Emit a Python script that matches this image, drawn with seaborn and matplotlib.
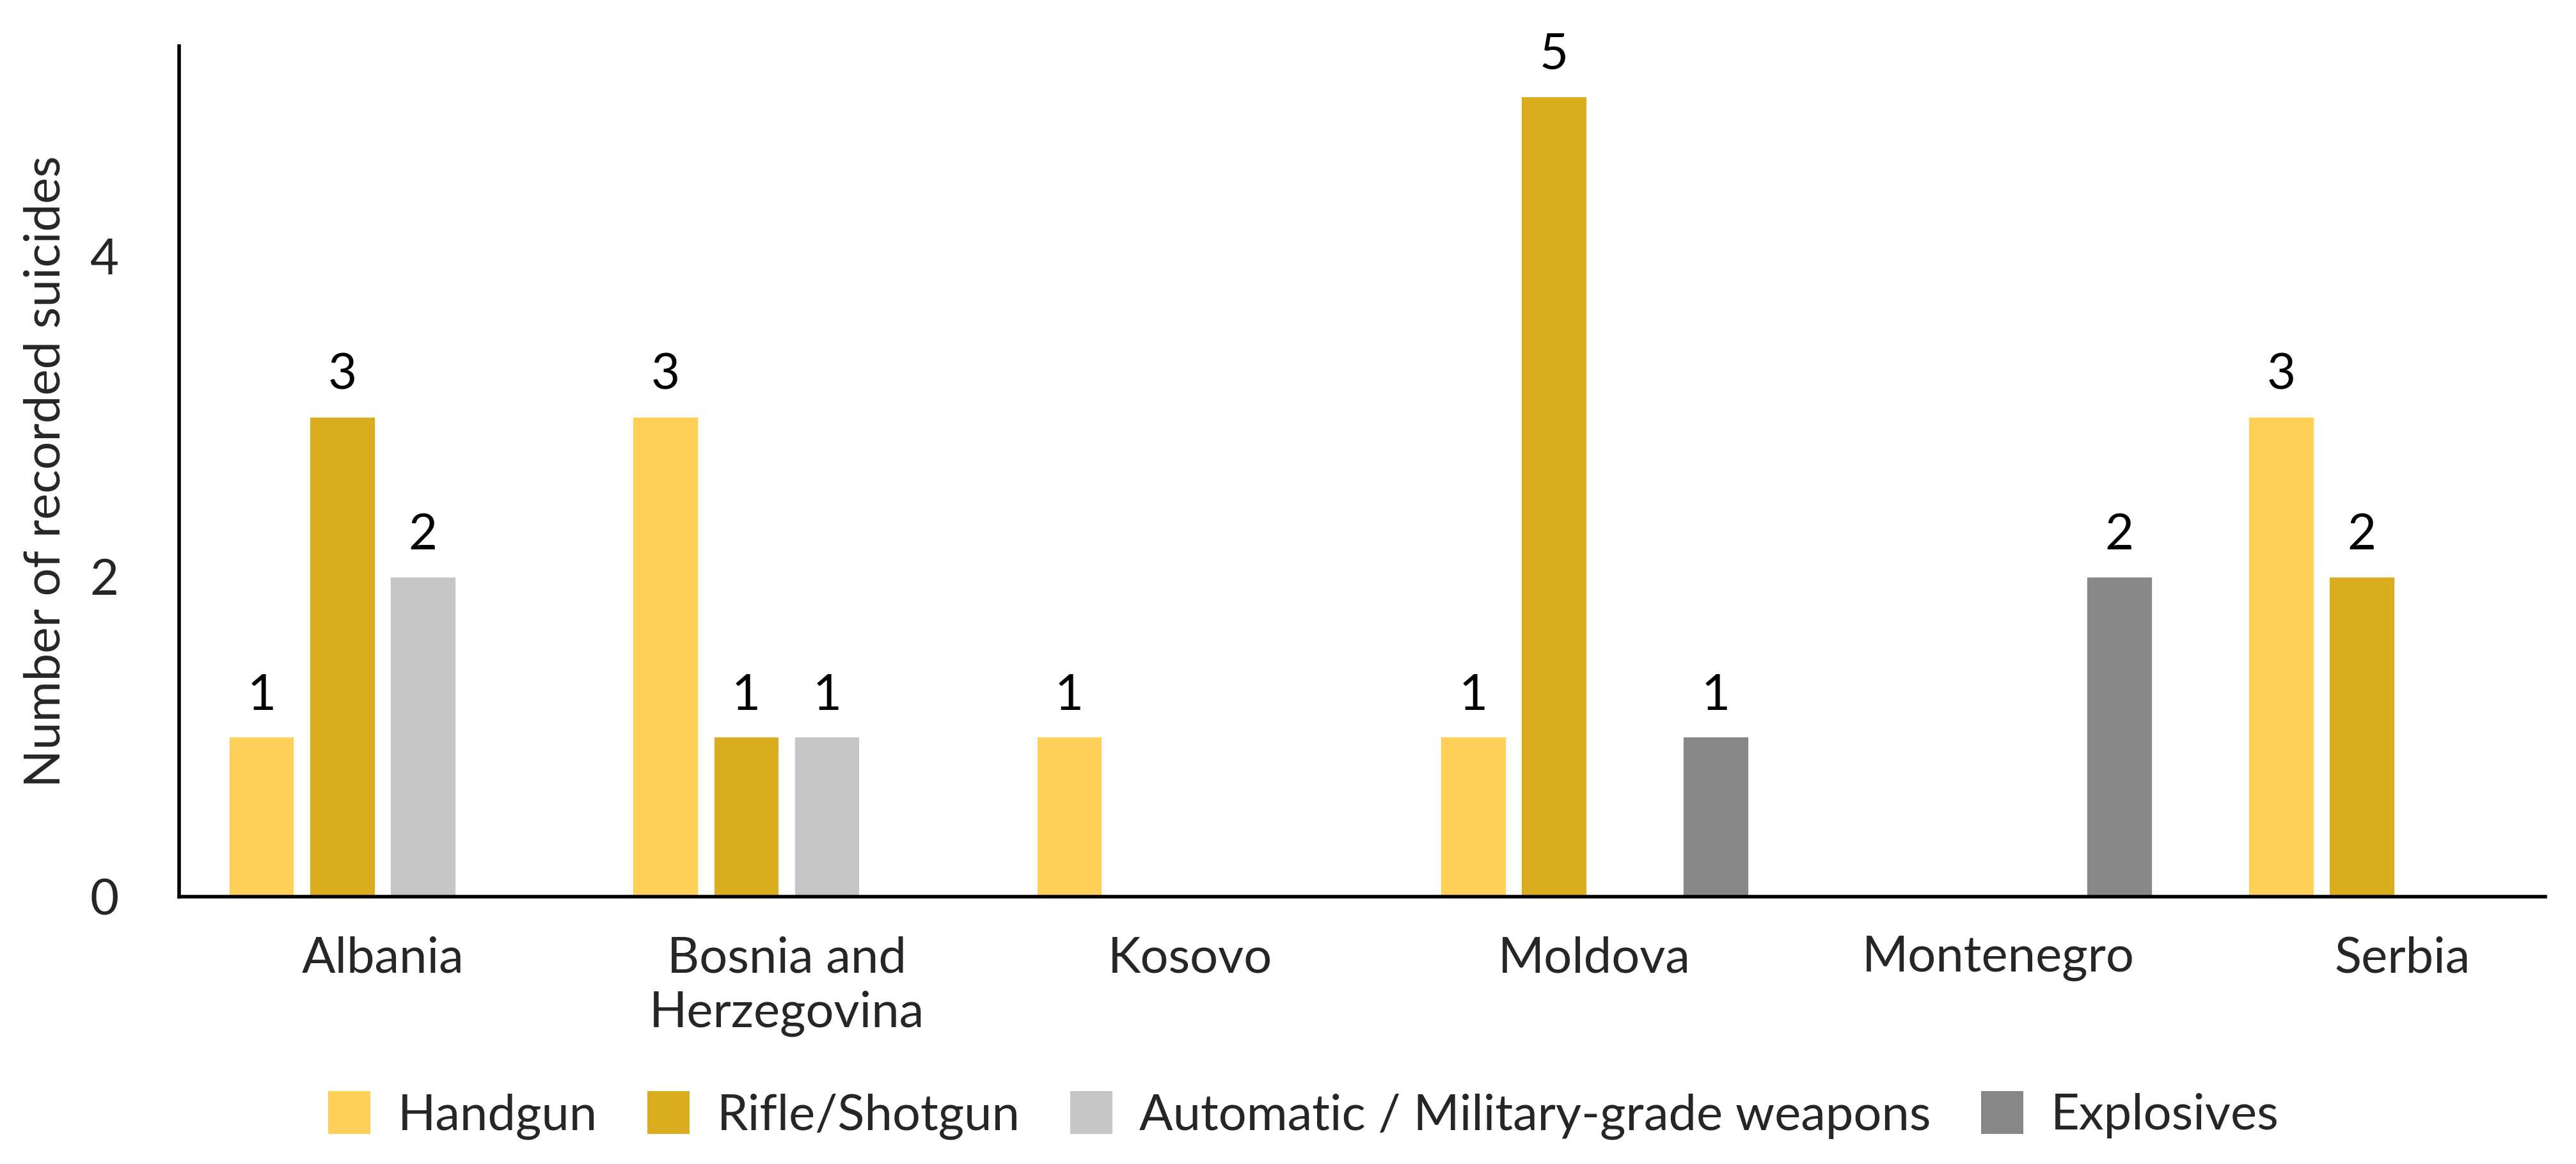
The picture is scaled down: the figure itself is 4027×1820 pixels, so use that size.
import matplotlib
matplotlib.use("Agg")
import matplotlib.pyplot as plt
import seaborn as sns
import pandas as pd
from matplotlib.patches import Patch

countries = ["Albania", "Bosnia and\nHerzegovina", "Kosovo", "Moldova", "Montenegro", "Serbia"]
weapons = ["Handgun", "Rifle/Shotgun", "Automatic / Military-grade weapons", "Explosives"]
handgun = [1, 3, 1, 1, 0, 3]
rifle = [3, 1, 0, 5, 0, 2]
automatic = [2, 1, 0, 0, 0, 0]
explosives = [0, 0, 0, 1, 2, 0]
colors = ["#FED058", "#D9AD1F", "#C6C6C6", "#878787"]

series = [handgun, rifle, automatic, explosives]
rows = []
for w, vals in zip(weapons, series):
    for c, v in zip(countries, vals):
        rows.append({"country": c, "weapon": w, "count": v})
df = pd.DataFrame(rows)

sns.set_theme(style="white")
plt.rcParams["font.family"] = ["Lato", "DejaVu Sans"]

fig = plt.figure(figsize=(4027 / 200, 1820 / 200), dpi=200)
ax = fig.add_axes([0.0695, 0.2297, 0.9185, 0.7307])

sns.barplot(data=df, x="country", y="count", hue="weapon", hue_order=weapons,
            palette=colors, width=0.8, gap=0.18, saturation=1, ax=ax,
            legend=False, errorbar=None)

for cont in ax.containers:
    labels = [f"{int(b.get_height())}" if b.get_height() > 0 else "" for b in cont]
    ax.bar_label(cont, labels=labels, padding=10, fontsize=28, color="black")

ax.set_ylim(0, 5.31)
ax.set_xlim(-0.504, 5.354)
ax.set_yticks([0, 2, 4])
ax.set_xlabel("")
ax.set_ylabel("Number of recorded suicides", fontsize=28)
ax.yaxis.set_label_coords(-0.0465, 0.5)
ax.tick_params(axis="y", length=0, pad=34, labelsize=28)
ax.tick_params(axis="x", length=0, pad=22, labelsize=28)
for lab in ax.get_xticklabels():
    lab.set_linespacing(1.25)

for s in ["top", "right"]:
    ax.spines[s].set_visible(False)
for s in ["left", "bottom"]:
    ax.spines[s].set_color("black")
    ax.spines[s].set_linewidth(2)

handles = [Patch(facecolor=c, edgecolor="none", label=w) for c, w in zip(colors, weapons)]
fig.legend(handles=handles, loc="lower center", bbox_to_anchor=(0.506, 0.004), ncol=4,
           frameon=False, fontsize=28, handlelength=0.85, handleheight=0.95,
           handletextpad=0.55, columnspacing=1.0, borderaxespad=0.0)

fig.savefig("out.png", dpi=200, facecolor="white")
